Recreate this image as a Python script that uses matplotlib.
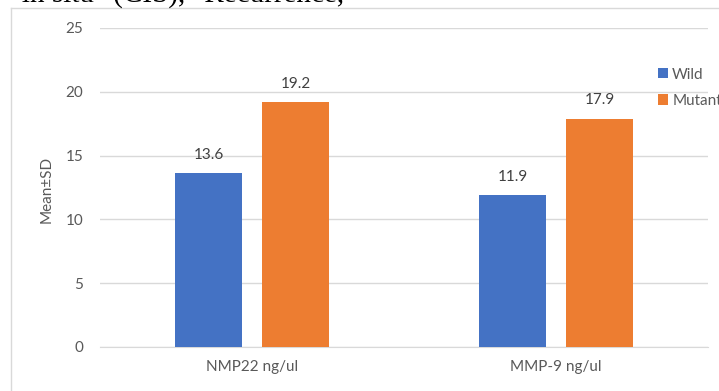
import matplotlib
matplotlib.use("Agg")
import matplotlib.pyplot as plt
from matplotlib.lines import Line2D
import numpy as np

categories = ["NMP22 ng/ul", "MMP-9 ng/ul"]
series_names = ["Wild", "Mutant"]
wild = [13.6, 11.9]
mutant = [19.2, 17.9]
yticks = [0, 5, 10, 15, 20, 25]

W, H = 719, 391
DPI = 100
fig = plt.figure(figsize=(W / DPI, H / DPI), dpi=DPI)
fig.patch.set_facecolor("white")

plt.rcParams["font.family"] = ["Lato", "DejaVu Sans"]
TXT = "#595959"
GRID = "#D9D9D9"
BLUE = "#4472C4"
ORANGE = "#ED7D31"

# chart frame (top and left edges visible)
fig.add_artist(Line2D([11 / W, 1.0], [1 - 8 / H, 1 - 8 / H], color=GRID, lw=1.0,
                      transform=fig.transFigure))
fig.add_artist(Line2D([11 / W, 11 / W], [0.0, 1 - 8 / H], color=GRID, lw=1.0,
                      transform=fig.transFigure))

# caption line running above the chart
fig.text(10 / W, 1 - 2 / H, '"in situ" (CIS), "Recurrence,', family="Liberation Serif",
         fontsize=21, color="black", ha="left", va="baseline")

left, right, top, bottom = 100, 708, 28, 347
ax = fig.add_axes([left / W, 1 - bottom / H, (right - left) / W, (bottom - top) / H])

x = np.arange(len(categories))
bw = 0.22
off = 0.143
b1 = ax.bar(x - off, wild, bw, color=BLUE, label=series_names[0], zorder=3)
b2 = ax.bar(x + off, mutant, bw, color=ORANGE, label=series_names[1], zorder=3)

for bars, vals in ((b1, wild), (b2, mutant)):
    for rect, v in zip(bars, vals):
        ax.annotate(f"{v:.1f}", (rect.get_x() + rect.get_width() / 2, v),
                    xytext=(0, 8), textcoords="offset points", ha="center", va="bottom",
                    fontsize=11, color="#404040")

ax.set_xlim(-0.5, 1.5)
ax.set_ylim(0, 25)
ax.set_yticks(yticks)
ax.set_xticks(x)
ax.set_xticklabels(categories)
ax.tick_params(axis="both", length=0, labelsize=11, colors=TXT)
ax.tick_params(axis="y", pad=12)
ax.tick_params(axis="x", pad=9)
ax.yaxis.grid(True, color=GRID, lw=1.0, zorder=0)
ax.set_axisbelow(True)
for s in ("top", "right", "left"):
    ax.spines[s].set_visible(False)
ax.spines["bottom"].set_color(GRID)
ax.set_ylabel("Mean±SD", fontsize=11, color=TXT)
ax.yaxis.set_label_coords(-46 / (right - left), (347 - 189) / (bottom - top))
ax.set_facecolor("white")

leg = fig.legend(handles=[b1, b2], loc="upper left",
                 bbox_to_anchor=(650 / W, 1 - 60 / H), frameon=False,
                 fontsize=11, handlelength=0.65, handleheight=0.65,
                 handletextpad=0.3, labelspacing=0.8, borderpad=0)
for t in leg.get_texts():
    t.set_color(TXT)

fig.savefig("out.png", dpi=DPI, facecolor="white")
